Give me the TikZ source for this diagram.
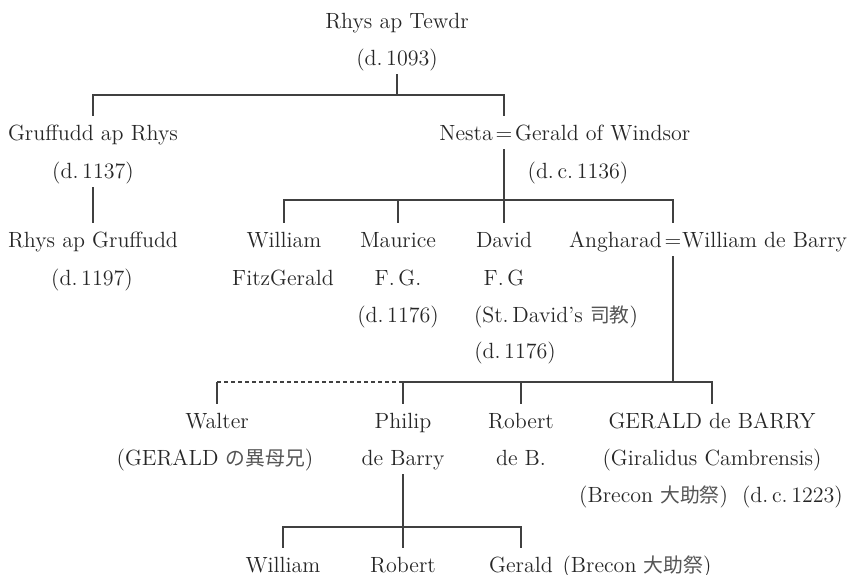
\documentclass[tikz,border=0pt]{standalone}
\usepackage{fontspec}
\newfontfamily\cjk{Noto Sans CJK JP}[Scale=0.9, Color=555555]
\usepackage{tikz}
\usetikzlibrary{positioning}

\newcommand{\ja}[1]{{\cjk #1}}

\begin{document}
\begin{tikzpicture}[
    x=0.5pt, y=-0.5pt,
    every node/.style={text=black!85, font=\fontsize{11}{13}\selectfont},
    per/.style={anchor=base, inner xsep=0pt, inner ysep=4.5pt, text height=7.5pt, text depth=0pt},
    line/.style={draw=black!75, line width=0.6pt},
    halfline/.style={line, dash pattern=on 2pt off 1.5pt}
  ]
  \useasboundingbox (0,0) rectangle (847,574);

  % bar levels
  \coordinate (bar1) at (0,95);
  \coordinate (bar2) at (0,200);
  \coordinate (bar3) at (0,382);
  \coordinate (bar4) at (0,527);

  % generation 1
  \node[per] (tewdr) at (397,28) {Rhys ap Tewdr};
  \node[per] (tewdrd) at (397,65) {(d.\,1093)};

  % generation 2
  \node[per] (gruffudd) at (93,140) {Gruffudd ap Rhys};
  \node[per] (gruffuddd) at (93,178) {(d.\,1137)};
  \node[per] (eqa) at (504,140) {=};
  \node[per, left=1pt of eqa] (nesta) {Nesta};
  \node[per, right=1pt of eqa] (geraldw) {Gerald of Windsor};
  \node[per] (geraldwd) at (578,178) {(d.\,c.\,1136)};

  % generation 3
  \node[per] (rhysg) at (93,247) {Rhys ap Gruffudd};
  \node[per] (rhysgd) at (92,285) {(d.\,1197)};
  \node[per] (williamfg) at (284,247) {William};
  \node[per] (fitzg) at (283,285) {FitzGerald};
  \node[per] (maurice) at (398,247) {Maurice};
  \node[per] (mauricefg) at (398,285) {F.\,G.};
  \node[per] (mauriced) at (398,322) {(d.\,1176)};
  \node[per] (david) at (504,247) {David};
  \node[per] (davidfg) at (504,285) {F.\,G};
  \node[per] (davids) at (556,322) {(St.\,David's \ja{司教})};
  \node[per] (davidd) at (515,358) {(d.\,1176)};
  \node[per] (eqb) at (673,247) {=};
  \node[per, left=1pt of eqb] (angharad) {Angharad};
  \node[per, right=0pt of eqb] (williamdb) {William de Barry};

  % generation 4
  \node[per] (walter) at (217,428) {Walter};
  \node[per] (walterj) at (215,465) {(GERALD \ja{の異母兄})};
  \node[per] (philip) at (403,428) {Philip};
  \node[per] (philipb) at (403,465) {de Barry};
  \node[per] (robert) at (521,428) {Robert};
  \node[per] (robertb) at (521,465) {de B.};
  \node[per] (geraldb) at (712,428) {GERALD de BARRY};
  \node[per] (geraldbc) at (712,465) {(Giralidus Cambrensis)};
  \node[per] (geraldbd) at (711,502) {(Brecon \ja{大助祭})\hspace{7pt}(d.\,c.\,1223)};

  % generation 5
  \node[per] (williamb) at (283,572) {William};
  \node[per] (robertp) at (403,572) {Robert};
  \node[per] (geraldp) at (521,572) {Gerald};
  \node[per, right=4.5pt of geraldp] (geraldpn) {(Brecon \ja{大助祭})};

  % Rhys ap Tewdr -> children
  \draw[line] (tewdrd.south) -- (tewdrd.south |- bar1);
  \draw[line] (gruffudd.north) |- (bar1 -| eqa) -- (eqa.north);
  % Gruffudd -> Rhys ap Gruffudd
  \draw[line] (gruffuddd.south) -- (rhysg.north);
  % Nesta = Gerald -> children
  \draw[line] (eqa.south) -- (david.north);
  \draw[line] (williamfg.north) |- (bar2 -| eqb) -- (eqb.north);
  \draw[line] (maurice.north) -- (maurice.north |- bar2);
  % Angharad = William de Barry -> children
  \draw[line] (eqb.south) -- (eqb.south |- bar3);
  \draw[line] (philip.north) |- (bar3 -| geraldb) -- (geraldb.north);
  \draw[line] (robert.north) -- (robert.north |- bar3);
  % Walter (half-brother, dashed)
  \draw[line] (walter.north) -- (walter.north |- bar3);
  \draw[halfline] (walter.north |- bar3) -- (bar3 -| philip);
  % Philip -> children
  \draw[line] (philipb.south) -- (robertp.north);
  \draw[line] (williamb.north) |- (bar4 -| geraldp) -- (geraldp.north);
\end{tikzpicture}
\end{document}
